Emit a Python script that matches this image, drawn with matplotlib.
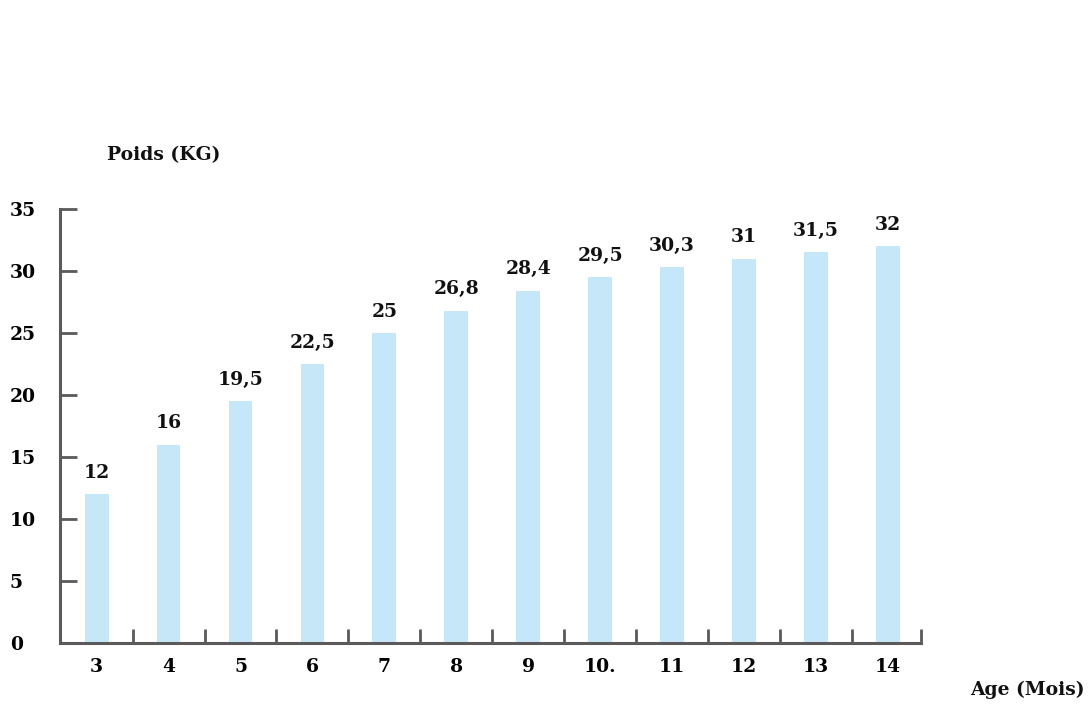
import matplotlib
matplotlib.use('Agg')
import matplotlib.pyplot as plt

# Weight of a young animal by age (months)
age_labels = ['3', '4', '5', '6', '7', '8', '9', '10.', '11', '12', '13', '14']
weights = [12, 16, 19.5, 22.5, 25, 26.8, 28.4, 29.5, 30.3, 31, 31.5, 32]
value_labels = ['12', '16', '19,5', '22,5', '25', '26,8', '28,4',
                '29,5', '30,3', '31', '31,5', '32']
y_ticks = [0, 5, 10, 15, 20, 25, 30, 35]

BAR = '#c6e7f8'
AXIS = '#5a5a5a'
FONT = dict(family='DejaVu Serif', fontweight='bold', color='#111111')
FS = 13.5

fig = plt.figure(figsize=(10.88, 7.15), dpi=100)
fig.patch.set_facecolor('white')
ax = fig.add_axes([0.0551, 0.1007, 0.7914, 0.607])

x = list(range(len(weights)))
ax.bar(x, weights, width=0.33, color=BAR, zorder=1)

for xi, v, lab in zip(x, weights, value_labels):
    ax.text(xi, v + 1.0, lab, ha='center', va='bottom', fontsize=FS, **FONT)

ax.set_xlim(-0.51, 11.46)
ax.set_ylim(0, 35)

# spines
for side in ['top', 'right']:
    ax.spines[side].set_visible(False)
for side in ['left', 'bottom']:
    ax.spines[side].set_color(AXIS)
    ax.spines[side].set_linewidth(2.2)

# y axis: inward ticks, labels flush at the left edge
ax.set_yticks(y_ticks)
ax.set_yticklabels([str(t) for t in y_ticks])
ax.tick_params(axis='y', direction='in', length=12, width=2, color=AXIS, pad=36)
for t in ax.get_yticklabels():
    t.set_fontsize(FS)
    t.set_fontfamily('DejaVu Serif')
    t.set_fontweight('bold')
    t.set_horizontalalignment('left')

# x axis: labels under bars, small ticks between bars
ax.set_xticks(x)
ax.set_xticklabels(age_labels)
ax.tick_params(axis='x', which='major', length=0, pad=11)
for t in ax.get_xticklabels():
    t.set_fontsize(FS)
    t.set_fontfamily('DejaVu Serif')
    t.set_fontweight('bold')
ax.set_xticks([i + 0.5 for i in x[:-1]] + [11.46], minor=True)
ax.tick_params(axis='x', which='minor', direction='in', length=10, width=2, color=AXIS)

fig.text(0.0983, 0.783, 'Poids (KG)', ha='left', va='center', fontsize=FS, **FONT)
fig.text(0.997, 0.035, 'Age (Mois)', ha='right', va='center', fontsize=FS, **FONT)

fig.savefig('out.png', dpi=100, facecolor='white')
